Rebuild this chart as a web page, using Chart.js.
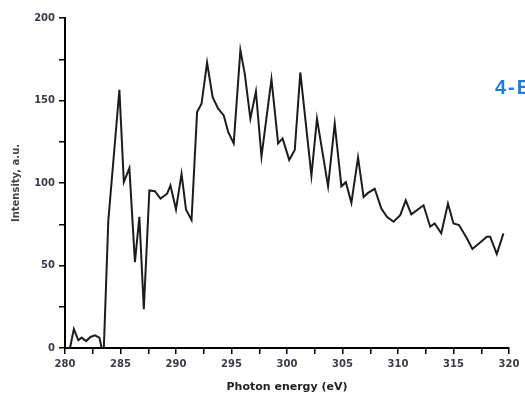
<!DOCTYPE html>
<html>
<head>
<meta charset="utf-8">
<script src="https://cdn.jsdelivr.net/npm/chart.js@4"></script>
<style>
  html, body { margin: 0; padding: 0; background: #fff; overflow: hidden; }
  #wrap { position: relative; width: 525px; height: 398px; overflow: hidden; }
  #tag { position: absolute; left: 495px; top: 76px; font: bold 20px 'Liberation Sans', Arial, sans-serif; letter-spacing: 2px; color: #1f7fd8; white-space: nowrap; }
</style>
</head>
<body>
<div id="wrap">
  <canvas id="spectrum" width="525" height="398"></canvas>
  <div id="tag">4-B</div>
</div>
<script>
// photon energy (eV)
const energy = [
  280.0, 280.45, 280.8, 281.2, 281.5, 281.9, 282.3, 282.7, 283.1, 283.3, 283.5,
  283.9, 284.9, 285.3, 285.8, 286.3, 286.7, 287.1, 287.6, 288.1, 288.6, 289.2,
  289.5, 290.0, 290.5, 290.9, 291.4, 291.9, 292.3, 292.8, 293.3, 293.8, 294.3,
  294.7, 295.2, 295.8, 296.2, 296.7, 297.2, 297.7, 298.6, 299.2, 299.6, 300.2,
  300.7, 301.2, 302.2, 302.7, 303.7, 304.3, 304.9, 305.3, 305.8, 306.4, 306.9,
  307.3, 307.9, 308.5, 309.0, 309.6, 310.2, 310.7, 311.2, 312.3, 312.9, 313.3,
  313.9, 314.5, 315.0, 315.5, 316.2, 316.7, 317.4, 318.0, 318.3, 318.9, 319.5
];
// intensity (a.u.)
const intensity = [
  0, 0, 11.5, 4.7, 6.3, 4.2, 6.7, 7.7, 6.3, 0, 0,
  77, 156.5, 100.5, 109, 52, 79.5, 23.5, 95.5, 95, 90.5, 93.5,
  98.5, 84, 105.5, 84, 77.5, 143, 148, 173, 152, 145, 141,
  131, 124, 180.5, 166, 139, 155.5, 116, 163, 124, 127, 114,
  120, 167, 104.5, 139, 98, 136, 98, 100.5, 88, 115.5, 91.5,
  94, 96.5, 84.5, 79.5, 76.5, 80.5, 89.5, 81, 86.5, 73.5, 75.5,
  69.5, 87.5, 75.5, 74.5, 66.5, 60, 64, 67.5, 67.5, 57, 69.5
];
const xTicks = [280, 285, 290, 295, 300, 305, 310, 315, 320];
const yTicks = [0, 50, 100, 150, 200];

const points = energy.map((e, i) => ({ x: e, y: intensity[i] }));
const tickFont = { family: 'DejaVu Sans', size: 10, weight: 'bold' };
const titleFont = { family: 'DejaVu Sans', size: 11, weight: 'bold' };

new Chart(document.getElementById('spectrum'), {
  type: 'line',
  data: {
    datasets: [{
      data: points,
      borderColor: '#1c1c1c',
      borderWidth: 2,
      pointRadius: 0,
      tension: 0,
      fill: false
    }]
  },
  options: {
    responsive: false,
    animation: false,
    layout: { padding: { top: 18, right: 16, left: 0, bottom: 0 } },
    plugins: { legend: { display: false }, tooltip: { enabled: false } },
    scales: {
      x: {
        type: 'linear',
        min: 280, max: 320,
        border: { color: '#000', width: 2 },
        grid: { display: true, drawOnChartArea: false, drawTicks: true, tickLength: 6, color: '#000', lineWidth: 1.5 },
        afterBuildTicks: s => { s.ticks = []; for (let v = 280; v <= 320; v += 2.5) s.ticks.push({ value: v }); },
        ticks: {
          color: '#3a3a4a', font: tickFont, padding: 4, maxRotation: 0, autoSkip: false,
          callback: v => xTicks.includes(v) ? String(v) : ''
        },
        title: { display: true, text: 'Photon energy (eV)', color: '#222', font: titleFont, padding: { top: 4 } },
        afterFit: s => { s.height = 50; }
      },
      y: {
        min: 0, max: 200,
        border: { color: '#000', width: 2 },
        grid: { display: true, drawOnChartArea: false, drawTicks: true, tickLength: 6, color: '#000', lineWidth: 1.5 },
        afterBuildTicks: s => { s.ticks = []; for (let v = 0; v <= 200; v += 25) s.ticks.push({ value: v }); },
        ticks: {
          color: '#3a3a4a', font: tickFont, padding: 4, autoSkip: false,
          callback: v => yTicks.includes(v) ? String(v) : ''
        },
        title: { display: true, text: 'Intensity, a.u.', color: '#444', font: { family: 'DejaVu Sans', size: 10, weight: 'bold' }, padding: { top: 10, bottom: 4 } },
        afterFit: s => { s.width = 65; }
      }
    }
  }
});
</script>
</body>
</html>
